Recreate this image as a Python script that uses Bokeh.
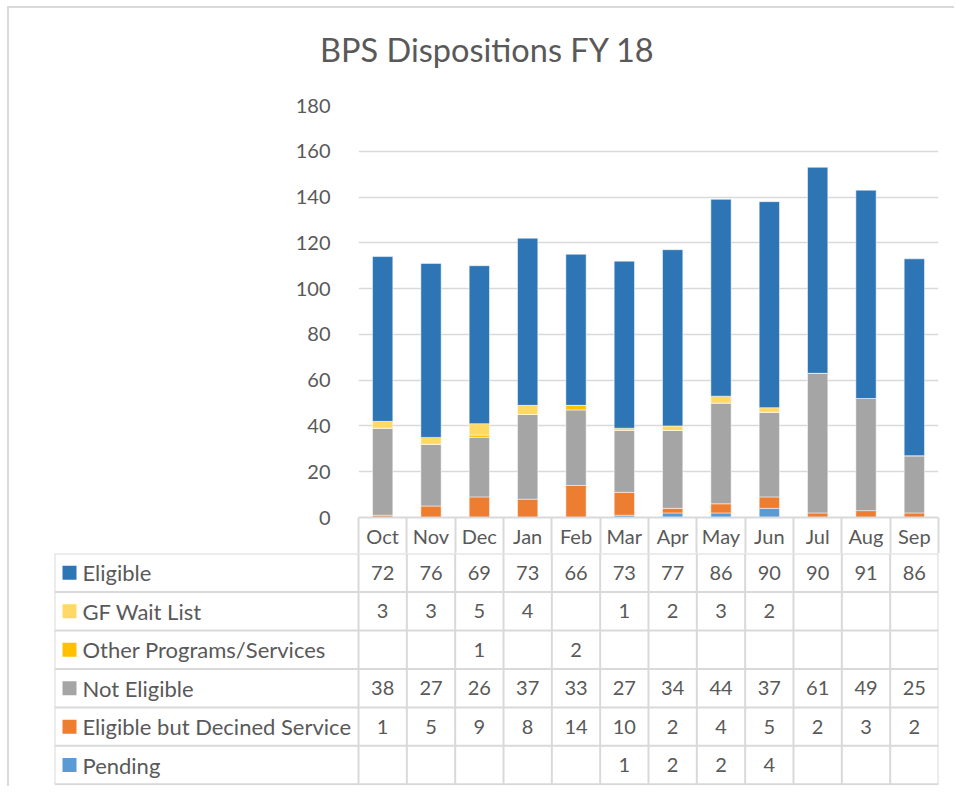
from bokeh.plotting import figure
from bokeh.models import Range1d, FixedTicker, ColumnDataSource
from bokeh.layouts import column
from bokeh.embed import file_html
from bokeh.resources import INLINE
from bokeh.core.properties import value

# ---------------- data ----------------
months = ["Oct", "Nov", "Dec", "Jan", "Feb", "Mar", "Apr", "May", "Jun", "Jul", "Aug", "Sep"]
series_names = ["Eligible", "GF Wait List", "Other Programs/Services", "Not Eligible",
                "Eligible but Decined Service", "Pending"]
eligible = [72, 76, 69, 73, 66, 73, 77, 86, 90, 90, 91, 86]
gf_wait_list = [3, 3, 5, 4, None, 1, 2, 3, 2, None, None, None]
other_programs = [None, None, 1, None, 2, None, None, None, None, None, None, None]
not_eligible = [38, 27, 26, 37, 33, 27, 34, 44, 37, 61, 49, 25]
declined = [1, 5, 9, 8, 14, 10, 2, 4, 5, 2, 3, 2]
pending = [None, None, None, None, None, 1, 2, 2, 4, None, None, None]
series_colors = ["#2E75B6", "#FFD966", "#FFC000", "#A5A5A5", "#ED7D31", "#5B9BD5"]
y_ticks = [0, 20, 40, 60, 80, 100, 120, 140, 160, 180]
title_text = "BPS Dispositions FY 18"

series_values = [eligible, gf_wait_list, other_programs, not_eligible, declined, pending]

# ---------------- style ----------------
FONT = "Lato"
TXT = "#595959"
GRID = "#d9d9d9"
FS = "20px"

n = len(months)
xpos = list(range(n))
keys = ["s%d" % k for k in range(len(series_names))]
data = {"x": xpos}
for k, vals in zip(keys, series_values):
    data[k] = [v if v is not None else 0 for v in vals]
source = ColumnDataSource(data)

# page origin of the figures (after css margin + border)
OX, OY = 9, 8
TITLE_BOTTOM = 93

# ---------------- title strip ----------------
h = figure(width=945, height=TITLE_BOTTOM - OY, x_range=Range1d(0, 1), y_range=Range1d(0, 1),
           output_backend="svg", toolbar_location=None, title=title_text,
           min_border_left=11, min_border_right=0, min_border_top=65, min_border_bottom=0)
h.frame_align = False
h.axis.visible = False
h.grid.visible = False
h.outline_line_color = None
h.title.align = "center"
h.title.text_font = FONT
h.title.text_font_size = "32.5px"
h.title.text_font_style = "normal"
h.title.text_color = TXT
h.title.standoff = 10

# ---------------- chart ----------------
p = figure(width=945, height=553 - TITLE_BOTTOM, x_range=Range1d(-0.5, n - 0.5),
           y_range=Range1d(0, 180), output_backend="svg", toolbar_location=None,
           min_border_left=358 - OX, min_border_right=16, min_border_top=105 - TITLE_BOTTOM,
           min_border_bottom=36)
p.frame_align = False
p.outline_line_color = None
p.background_fill_color = "white"
p.border_fill_color = "white"

# stack bottom -> top : Pending, Declined, Not Eligible, Other, GF, Eligible
order = list(range(len(series_names)))[::-1]
p.vbar_stack([keys[i] for i in order], x="x", width=0.42, source=source,
             fill_color=[series_colors[i] for i in order], line_color="white", line_width=0.5)

p.ygrid.grid_line_color = GRID
p.ygrid.grid_line_width = 1.5
p.xgrid.grid_line_color = None

p.yaxis.ticker = FixedTicker(ticks=y_ticks)
p.yaxis.axis_line_color = None
p.yaxis.major_tick_line_color = None
p.yaxis.minor_tick_line_color = None
p.yaxis.major_label_text_font = FONT
p.yaxis.major_label_text_font_size = FS
p.yaxis.major_label_text_color = TXT
p.yaxis.major_label_standoff = 22

p.xaxis.ticker = FixedTicker(ticks=xpos, minor_ticks=[i - 0.5 for i in range(n + 1)])
p.xaxis.major_label_overrides = {i: m for i, m in enumerate(months)}
p.xaxis.axis_line_color = GRID
p.xaxis.axis_line_width = 2
p.xaxis.major_tick_line_color = None
p.xaxis.minor_tick_in = 0
p.xaxis.minor_tick_out = 36
p.xaxis.minor_tick_line_color = GRID
p.xaxis.minor_tick_line_width = 2
p.xaxis.major_label_text_font = FONT
p.xaxis.major_label_text_font_size = FS
p.xaxis.major_label_text_color = TXT
p.xaxis.major_label_standoff = -30

# ---------------- data table ----------------
cell_px = 580 / n
label_w = (358 - 54) / cell_px
left = -0.5 - label_w
nrows = len(series_names)

t = figure(width=945, height=233, x_range=Range1d(left, n - 0.5), y_range=Range1d(-0.03, nrows),
           output_backend="svg", toolbar_location=None,
           min_border_left=54 - OX, min_border_right=16, min_border_top=0, min_border_bottom=1)
t.frame_align = False
t.axis.visible = False
t.grid.visible = False
t.outline_line_color = None
t.border_fill_color = "white"

# horizontal lines
hy = list(range(nrows + 1))
t.segment(x0=[left] * len(hy), y0=hy, x1=[n - 0.5] * len(hy), y1=hy, line_color=GRID, line_width=2)
# vertical lines
vx = [left] + [i - 0.5 for i in range(n + 1)]
t.segment(x0=vx, y0=[0] * len(vx), x1=vx, y1=[nrows] * len(vx), line_color=GRID, line_width=2)

row_y = [nrows - 0.5 - r for r in range(nrows)]
t.text(x=[left] * nrows, y=row_y, text=series_names, x_offset=28, text_align="left",
       text_baseline="middle", text_font=value(FONT), text_font_size="22px", text_color=TXT)
t.rect(x=[left + 15 / cell_px] * nrows, y=row_y, width=14, height=14,
       width_units="screen", height_units="screen", fill_color=series_colors, line_color=None)

vx_, vy_, vt_ = [], [], []
for r, vals in enumerate(series_values):
    for i, v in enumerate(vals):
        if v is not None:
            vx_.append(i)
            vy_.append(row_y[r])
            vt_.append(str(v))
t.text(x=vx_, y=vy_, text=vt_, text_align="center", text_baseline="middle",
       text_font=value(FONT), text_font_size=FS, text_color=TXT)

layout = column(h, p, t, spacing=0,
                styles={"margin-left": "7px", "margin-top": "6px",
                        "border-top": "2px solid #d9d9d9", "border-left": "2px solid #d9d9d9"})

open("out.html", "w").write(file_html(layout, INLINE))
